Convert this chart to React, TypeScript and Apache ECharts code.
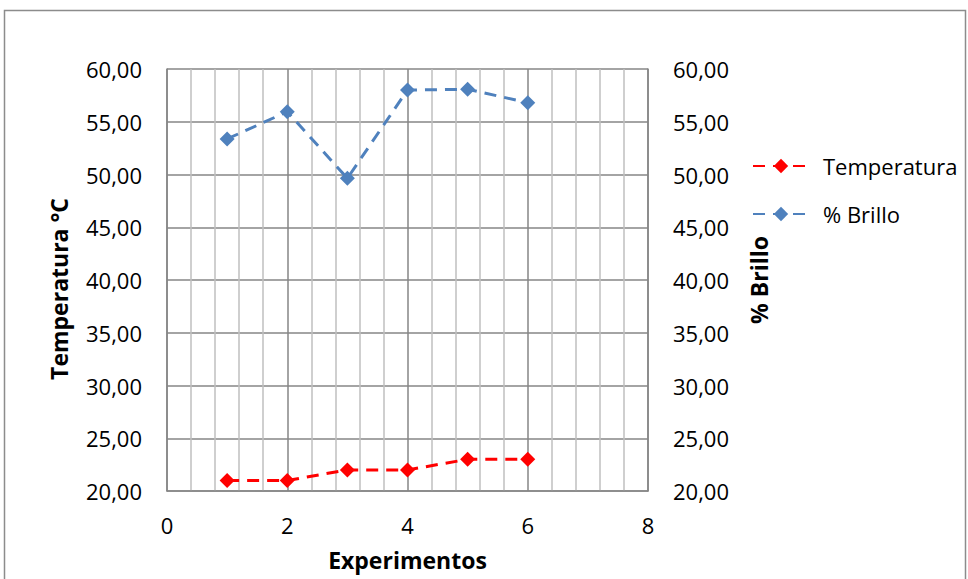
import React, { useEffect, useRef } from "react";
import * as echarts from "echarts";

const experimentos = [1, 2, 3, 4, 5, 6];
const temperatura = [21, 21, 22, 22, 23, 23];
const brillo = [53.37, 55.95, 49.64, 58.01, 58.08, 56.81];

const FONT = "'Open Sans', Lato, sans-serif";

export default function App() {
  const ref = useRef<HTMLDivElement>(null);
  useEffect(() => {
    const chart = echarts.init(ref.current!, undefined, { renderer: "svg" });
    const fmt = (v: number) => v.toFixed(2).replace(".", ",");
    const yCommon = {
      type: "value",
      min: 20,
      max: 60,
      interval: 5,
      axisTick: { show: false },
      axisLine: { show: true, lineStyle: { color: "#868686", width: 1.5 } },
      axisLabel: { fontSize: 22, color: "#000", fontFamily: FONT, margin: 25, formatter: fmt },
      nameLocation: "middle",
    };
    chart.setOption({
      animation: false,
      backgroundColor: "#fff",
      graphic: [
        {
          type: "rect",
          shape: { x: 4.5, y: 10.5, width: 961, height: 600 },
          style: { fill: "none", stroke: "#8c8c8c", lineWidth: 1.5 },
          z: -1,
        },
      ],
      grid: { left: 167, right: 320, top: 69, bottom: 88, show: false },
      legend: {
        left: 747,
        top: 150,
        orient: "vertical",
        itemWidth: 56,
        itemHeight: 18,
        itemGap: 26,
        textStyle: { fontSize: 22, color: "#000", fontFamily: FONT, padding: [0, 0, 0, 9] },
        data: ["Temperatura", "% Brillo"],
      },
      xAxis: {
        type: "value",
        min: 0,
        max: 8,
        interval: 2,
        name: "Experimentos",
        nameLocation: "middle",
        nameGap: 57,
        nameTextStyle: { fontSize: 23, fontWeight: "bold", color: "#000", fontFamily: FONT },
        axisTick: { show: false },
        axisLine: { show: true, onZero: false, lineStyle: { color: "#868686", width: 1.5 } },
        axisLabel: { fontSize: 22, color: "#000", fontFamily: FONT, margin: 23 },
        splitLine: { show: true, lineStyle: { color: "#868686", width: 1.5 } },
        minorTick: { show: false, splitNumber: 5 },
        minorSplitLine: { show: true, lineStyle: { color: "#bfbfbf", width: 1.5 } },
      },
      yAxis: [
        {
          ...yCommon,
          position: "left",
          name: "Temperatura °C",
          nameGap: 97,
          nameTextStyle: { fontSize: 23, fontWeight: "bold", color: "#000", fontFamily: FONT, padding: [0, 18, 0, 0] },
          splitLine: { show: true, lineStyle: { color: "#868686", width: 1.5 } },
        },
        {
          ...yCommon,
          position: "right",
          name: "% Brillo",
          nameRotate: 90,
          nameGap: 99,
          nameTextStyle: { fontSize: 23, fontWeight: "bold", color: "#000", fontFamily: FONT },
          splitLine: { show: false },
        },
      ],
      series: [
        {
          name: "Temperatura",
          type: "line",
          yAxisIndex: 0,
          data: experimentos.map((x, i) => [x, temperatura[i]]),
          symbol: "diamond",
          symbolSize: 15,
          itemStyle: { color: "#ff0000" },
          lineStyle: { color: "#ff0000", width: 3, type: [12, 8] },
          z: 3,
        },
        {
          name: "% Brillo",
          type: "line",
          yAxisIndex: 1,
          data: experimentos.map((x, i) => [x, brillo[i]]),
          symbol: "diamond",
          symbolSize: 15,
          itemStyle: { color: "#4f81bd" },
          lineStyle: { color: "#4f81bd", width: 3, type: [12, 8] },
          z: 3,
        },
      ],
    });
    return () => chart.dispose();
  }, []);
  return (
    <div
      ref={ref}
      style={{ position: "fixed", left: 0, top: 0, width: 968, height: 579 }}
    />
  );
}
